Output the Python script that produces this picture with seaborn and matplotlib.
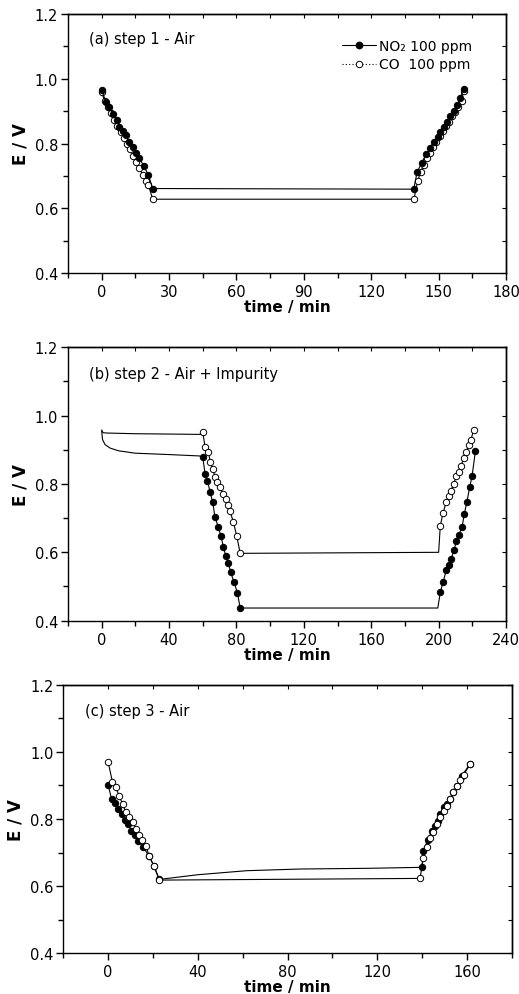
import matplotlib
matplotlib.use("Agg")
import matplotlib.pyplot as plt
import seaborn as sns
from matplotlib.lines import Line2D
from matplotlib.ticker import MultipleLocator, FormatStrFormatter

# ---------------- data ----------------
# panel (a) step 1 - Air
t_a_no2 = [0, 1.9, 3.4, 4.9, 6.8, 7.9, 9.3, 10.8, 12.3, 13.8, 15.3, 16.8, 18.7, 20.8, 22.7,
           138.9, 140.4, 142.4, 144.4, 146.3, 147.8, 149.6, 150.7, 152.2, 153.7, 155.2, 156.7,
           158.2, 159.6, 161.1]
e_a_no2 = [0.966, 0.927, 0.912, 0.891, 0.874, 0.852, 0.840, 0.826, 0.804, 0.788, 0.770, 0.755,
           0.731, 0.703, 0.661, 0.659, 0.711, 0.740, 0.767, 0.785, 0.804, 0.819, 0.836, 0.850,
           0.865, 0.884, 0.901, 0.919, 0.940, 0.968]
t_a_co = [0, 1.4, 2.8, 4.2, 5.6, 7.0, 8.4, 9.8, 11.2, 12.6, 14.0, 15.4, 16.8, 18.2, 19.6, 20.8,
          22.7, 139.0, 140.7, 142.0, 143.4, 144.8, 146.2, 147.6, 149.0, 150.4, 151.8, 153.2,
          154.6, 156.0, 157.4, 158.8, 160.2, 161.1]
e_a_co = [0.958, 0.930, 0.912, 0.893, 0.873, 0.855, 0.835, 0.818, 0.800, 0.782, 0.762, 0.744,
          0.724, 0.704, 0.685, 0.672, 0.628, 0.628, 0.685, 0.712, 0.735, 0.755, 0.772, 0.790,
          0.806, 0.822, 0.838, 0.853, 0.868, 0.884, 0.898, 0.912, 0.930, 0.963]

# panel (b) step 2 - Air + Impurity
t_b_no2 = [0, 0.5, 2, 5, 10, 20, 40, 58, 60, 61.4, 62.8, 64.4, 65.9, 67.3, 69.3, 70.7, 72.3,
           73.7, 75.2, 76.6, 78.6, 80.6, 82.2, 199.5, 201, 202.6, 204.6, 206, 207.3, 209.3,
           210.5, 211.9, 213.9, 215.2, 216.8, 218.4, 219.8, 221.8]
e_b_no2 = [0.955, 0.930, 0.915, 0.905, 0.897, 0.890, 0.886, 0.882, 0.878, 0.829, 0.808, 0.776,
           0.746, 0.702, 0.673, 0.649, 0.615, 0.588, 0.568, 0.541, 0.512, 0.481, 0.437, 0.437,
           0.483, 0.512, 0.549, 0.563, 0.580, 0.608, 0.634, 0.651, 0.673, 0.712, 0.748, 0.790,
           0.822, 0.895]
mk_b_no2 = list(range(8, 23)) + list(range(24, 38))
t_b_co = [0, 0.8, 3, 20, 40, 59, 60, 61.4, 63.4, 64.4, 65.9, 67.3, 68.7, 70.3, 71.9, 73.5, 74.9,
          76.2, 78.2, 80.2, 82.2, 200, 201, 202.6, 204.6, 206.0, 207.3, 208.9, 210.5, 211.9,
          213.3, 214.9, 216.4, 217.8, 219.2, 220.8]
e_b_co = [0.958, 0.950, 0.949, 0.947, 0.946, 0.945, 0.952, 0.907, 0.893, 0.865, 0.844, 0.820,
          0.805, 0.790, 0.771, 0.756, 0.737, 0.720, 0.688, 0.647, 0.597, 0.600, 0.678, 0.715,
          0.748, 0.764, 0.780, 0.800, 0.824, 0.834, 0.854, 0.875, 0.893, 0.914, 0.930, 0.958]
mk_b_co = list(range(6, 21)) + list(range(22, 36))

# panel (c) step 3 - Air
t_c_no2 = [0, 1.5, 3, 4.5, 6, 7.4, 8.9, 10.4, 11.9, 13.4, 15.6, 18.3, 20.5, 22.8, 40, 61.8,
           85.6, 115, 139.9, 140.6, 142.6, 144.3, 145.8, 146.9, 148.1, 149.6, 151, 152.5, 154,
           155.5, 157.7, 161.5]
e_c_no2 = [0.901, 0.860, 0.848, 0.830, 0.815, 0.798, 0.785, 0.765, 0.752, 0.735, 0.716, 0.689,
           0.659, 0.620, 0.634, 0.646, 0.651, 0.653, 0.656, 0.706, 0.737, 0.765, 0.780, 0.795,
           0.815, 0.835, 0.845, 0.860, 0.879, 0.899, 0.929, 0.964]
mk_c_no2 = list(range(0, 14)) + list(range(18, 32))
t_c_co = [0, 1.9, 3.4, 4.9, 6.4, 7.9, 9.4, 10.9, 12.4, 13.8, 15.3, 16.8, 18.3, 20.5, 22.8,
          139.1, 140.6, 142.1, 143.6, 145.1, 146.6, 148.1, 149.6, 151.0, 152.5, 154.0, 155.5,
          157.0, 158.5, 161.5]
e_c_co = [0.969, 0.911, 0.894, 0.869, 0.845, 0.820, 0.805, 0.790, 0.770, 0.752, 0.737, 0.721,
          0.689, 0.659, 0.618, 0.623, 0.684, 0.716, 0.742, 0.762, 0.785, 0.805, 0.825, 0.840,
          0.860, 0.879, 0.897, 0.917, 0.931, 0.964]

panel_titles = ["(a) step 1 - Air", "(b) step 2 - Air + Impurity", "(c) step 3 - Air"]
legend_labels = ["NO\u2082 100 ppm", "CO  100 ppm"]

# ---------------- style ----------------
sns.set_style("ticks")
plt.rcParams['font.family'] = ['DejaVu Sans']
plt.rcParams['font.size'] = 10
plt.rcParams['text.color'] = 'black'
plt.rcParams['axes.labelcolor'] = 'black'
plt.rcParams['xtick.color'] = 'black'
plt.rcParams['ytick.color'] = 'black'
plt.rcParams['axes.edgecolor'] = 'black'

fig = plt.figure(figsize=(5.19, 9.95), dpi=100)
ax_a = fig.add_axes([0.131, 0.7246, 0.844, 0.2603])
ax_b = fig.add_axes([0.131, 0.3752, 0.844, 0.2748])
ax_c = fig.add_axes([0.122, 0.0409, 0.864, 0.2700])

MS = 4.6


def draw_series(ax, t, e, filled, markevery=None, z=2):
    kw = dict(color='black', lw=0.8, marker='o', markersize=MS,
              markeredgecolor='black', markeredgewidth=0.7,
              markerfacecolor='black' if filled else 'white', zorder=z)
    if markevery is not None:
        kw['markevery'] = markevery
    sns.lineplot(x=t, y=e, ax=ax, sort=False, estimator=None, legend=False, **kw)


def style_axis(ax, xlim, xmaj, xmin_, title):
    ax.set_xlim(*xlim)
    ax.set_ylim(0.4, 1.2)
    ax.xaxis.set_major_locator(MultipleLocator(xmaj))
    ax.xaxis.set_minor_locator(MultipleLocator(xmin_))
    ax.yaxis.set_major_locator(MultipleLocator(0.2))
    ax.yaxis.set_minor_locator(MultipleLocator(0.1))
    ax.yaxis.set_major_formatter(FormatStrFormatter('%.1f'))
    ax.xaxis.set_major_formatter(FormatStrFormatter('%d'))
    for s in ax.spines.values():
        s.set_linewidth(1.0)
        s.set_visible(True)
    ax.tick_params(which='major', direction='out', length=5, width=1, pad=2,
                   labelsize=10.5, colors='black')
    ax.tick_params(which='minor', direction='out', length=3.5, width=1)
    ax.tick_params(axis='x', which='major', pad=3)
    sx = ax.secondary_xaxis('top')
    sx.xaxis.set_major_locator(MultipleLocator(xmaj))
    sx.xaxis.set_minor_locator(MultipleLocator(xmin_))
    sx.tick_params(which='both', direction='in', length=3, width=0.8, labeltop=False)
    sx.spines['top'].set_linewidth(1.0)
    sy = ax.secondary_yaxis('right')
    sy.yaxis.set_major_locator(MultipleLocator(0.2))
    sy.yaxis.set_minor_locator(MultipleLocator(0.1))
    sy.tick_params(which='both', direction='in', length=3, width=0.8, labelright=False)
    sy.spines['right'].set_linewidth(1.0)
    ax.set_xlabel("time / min", fontsize=11, fontweight='bold', labelpad=0)
    ax.set_ylabel("E / V", fontsize=12, fontweight='bold', labelpad=4)
    ax.text(0.048, 0.905, title, transform=ax.transAxes, fontsize=10.5,
            ha='left', va='center')


# panel a
draw_series(ax_a, t_a_co, e_a_co, filled=False, z=2)
draw_series(ax_a, t_a_no2, e_a_no2, filled=True, z=3)
style_axis(ax_a, (-15, 180), 30, 15, panel_titles[0])

# panel b
draw_series(ax_b, t_b_no2, e_b_no2, filled=True, markevery=mk_b_no2, z=2)
draw_series(ax_b, t_b_co, e_b_co, filled=False, markevery=mk_b_co, z=3)
style_axis(ax_b, (-20, 240), 40, 20, panel_titles[1])

# panel c
draw_series(ax_c, t_c_no2, e_c_no2, filled=True, markevery=mk_c_no2, z=2)
draw_series(ax_c, t_c_co, e_c_co, filled=False, z=3)
style_axis(ax_c, (-20, 180), 40, 20, panel_titles[2])
ax_c.set_xticks([0, 40, 80, 120, 160])

# legend in panel a
handles = [
    Line2D([], [], color='black', lw=0.8, marker='o', markersize=MS,
           markerfacecolor='black', markeredgecolor='black'),
    Line2D([], [], color='black', lw=0.8, ls=(0, (1, 2)), marker='o', markersize=MS,
           markerfacecolor='white', markeredgecolor='black', markeredgewidth=0.7),
]
ax_a.legend(handles, legend_labels, loc='upper left', bbox_to_anchor=(0.625, 0.905),
            frameon=False, fontsize=10, handlelength=2.5, handletextpad=0.2,
            labelspacing=0.35, borderpad=0, borderaxespad=0)

fig.savefig("out.png", dpi=100)
